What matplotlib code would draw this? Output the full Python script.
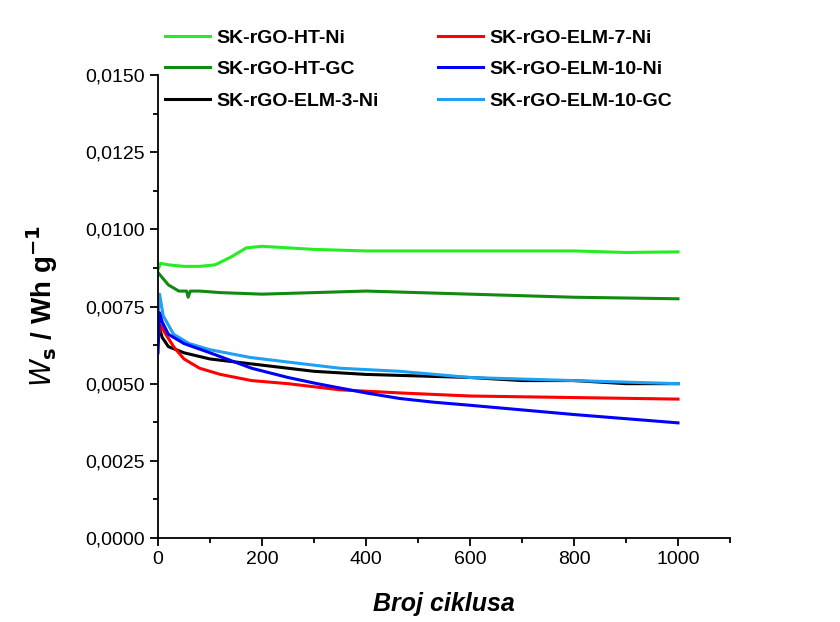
import matplotlib
matplotlib.use('Agg')
import matplotlib.pyplot as plt
from matplotlib.ticker import MultipleLocator, FuncFormatter

plt.rcParams['font.family'] = ['Liberation Sans', 'DejaVu Sans']

# cycle number / specific energy (Wh/g)
x_ht_ni = [0, 5, 20, 50, 80, 110, 140, 170, 200, 250, 300, 400, 500, 600, 700, 800, 900, 1000]
y_ht_ni = [0.0087, 0.0089, 0.00885, 0.0088, 0.0088, 0.00885, 0.0091, 0.0094, 0.00945, 0.0094,
           0.00935, 0.0093, 0.0093, 0.0093, 0.0093, 0.0093, 0.00925, 0.00927]

x_ht_gc = [0, 5, 20, 40, 55, 58, 62, 80, 120, 200, 400, 600, 800, 1000]
y_ht_gc = [0.0086, 0.0085, 0.0082, 0.0080, 0.0080, 0.0078, 0.0080, 0.0080, 0.00795, 0.0079,
           0.0080, 0.0079, 0.0078, 0.00775]

x_elm3 = [0, 3, 8, 20, 50, 100, 150, 200, 300, 400, 500, 600, 700, 800, 900, 1000]
y_elm3 = [0.0066, 0.0068, 0.0065, 0.0062, 0.0060, 0.0058, 0.0057, 0.0056, 0.0054, 0.0053,
          0.00525, 0.0052, 0.0051, 0.0051, 0.0050, 0.0050]

x_elm7 = [0, 5, 15, 30, 50, 80, 120, 180, 250, 350, 465, 600, 800, 1000]
y_elm7 = [0.0065, 0.0069, 0.0066, 0.0062, 0.0058, 0.0055, 0.0053, 0.0051, 0.0050, 0.0048,
          0.0047, 0.0046, 0.00455, 0.0045]

x_elm10 = [0, 3, 8, 20, 50, 100, 180, 250, 306, 400, 465, 530, 600, 800, 1000]
y_elm10 = [0.0060, 0.0073, 0.0070, 0.0066, 0.0063, 0.0060, 0.0055, 0.0052, 0.0050, 0.0047,
           0.00452, 0.0044, 0.0043, 0.0040, 0.00373]

x_elm10gc = [0, 3, 10, 30, 60, 100, 177, 250, 350, 465, 600, 800, 1000]
y_elm10gc = [0.0072, 0.0079, 0.0072, 0.0066, 0.0063, 0.0061, 0.00585, 0.0057, 0.0055, 0.0054,
             0.0052, 0.0051, 0.0050]

fig = plt.figure(figsize=(8.4, 6.22), dpi=100)
ax = fig.add_axes([158/840, 1-538/622, (730-158)/840, (538-75)/622])

lw = 2.2
l1, = ax.plot(x_ht_ni, y_ht_ni, color='#22ee22', lw=lw, label='SK-rGO-HT-Ni')
l2, = ax.plot(x_ht_gc, y_ht_gc, color='#108a10', lw=lw, label='SK-rGO-HT-GC')
l3, = ax.plot(x_elm3, y_elm3, color='black', lw=lw, label='SK-rGO-ELM-3-Ni')
l6, = ax.plot(x_elm10gc, y_elm10gc, color='#1ea0f5', lw=lw, label='SK-rGO-ELM-10-GC')
l4, = ax.plot(x_elm7, y_elm7, color='#ff0000', lw=lw, label='SK-rGO-ELM-7-Ni')
l5, = ax.plot(x_elm10, y_elm10, color='#0000ff', lw=lw, label='SK-rGO-ELM-10-Ni')

ax.set_xlim(0, 1100)
ax.set_ylim(0, 0.015)
ax.xaxis.set_major_locator(MultipleLocator(200))
ax.xaxis.set_minor_locator(MultipleLocator(100))
ax.yaxis.set_major_locator(MultipleLocator(0.0025))
ax.yaxis.set_minor_locator(MultipleLocator(0.00125))
ax.yaxis.set_major_formatter(FuncFormatter(lambda v, p: f'{v:.4f}'.replace('.', ',')))
ax.xaxis.set_major_formatter(FuncFormatter(lambda v, p: '' if v > 1000 else f'{v:.0f}'))

for s in ['top', 'right']:
    ax.spines[s].set_visible(False)
for s in ['left', 'bottom']:
    ax.spines[s].set_linewidth(1.3)
ax.tick_params(which='major', direction='out', length=6, width=1.3, labelsize=14)
ax.tick_params(which='minor', direction='out', length=3.5, width=1.3)

ax.set_xlabel('Broj ciklusa', fontsize=18, fontweight='bold', fontstyle='italic', labelpad=17)
ax.set_ylabel(r'$\mathbf{\mathit{W}}_\mathbf{s}$ / Wh g$^\mathbf{-1}$', fontsize=20,
              fontweight='bold', labelpad=18)

kw = dict(frameon=False, prop={'weight': 'bold', 'size': 14}, handlelength=2.3,
          handletextpad=0.35, labelspacing=0.72, borderaxespad=0, borderpad=0)
leg1 = fig.legend(handles=[l1, l2, l3], loc='upper left',
                  bbox_to_anchor=(165/840, 1-29/622), **kw)
leg2 = fig.legend(handles=[l4, l5, l6], loc='upper left',
                  bbox_to_anchor=(438/840, 1-29/622), **kw)

fig.savefig('out.png', dpi=100)
